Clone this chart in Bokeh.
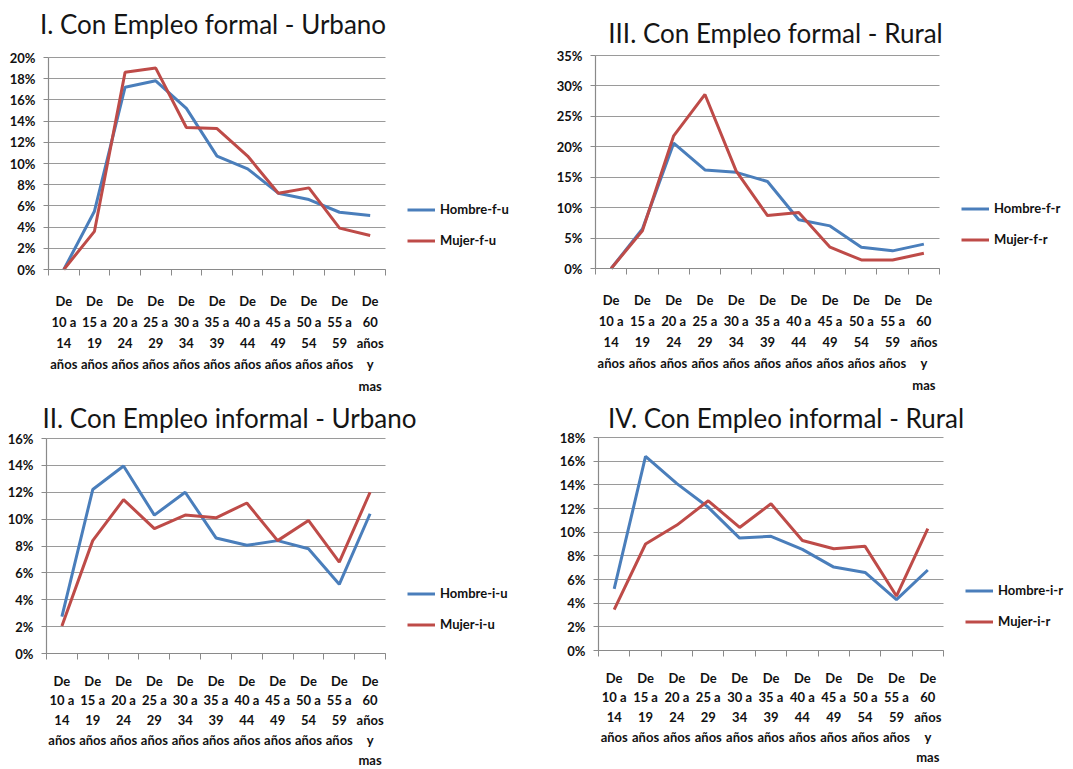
from bokeh.plotting import figure
from bokeh.layouts import row, column
from bokeh.models import (Range1d, FixedTicker, PrintfTickFormatter, Legend, LegendItem,
                          Label)
from bokeh.embed import file_html
from bokeh.resources import INLINE

categories = ["De\n10 a\n14\naños", "De\n15 a\n19\naños", "De\n20 a\n24\naños",
              "De\n25 a\n29\naños", "De\n30 a\n34\naños", "De\n35 a\n39\naños",
              "De\n40 a\n44\naños", "De\n45 a\n49\naños", "De\n50 a\n54\naños",
              "De\n55 a\n59\naños", "De\n60\naños\ny\nmas"]

hombre_f_u = [0.0, 5.5, 17.2, 17.8, 15.2, 10.7, 9.5, 7.2, 6.6, 5.4, 5.1]
mujer_f_u = [0.0, 3.6, 18.6, 19.0, 13.4, 13.3, 10.7, 7.2, 7.7, 3.9, 3.2]
hombre_f_r = [0.0, 6.5, 20.6, 16.2, 15.8, 14.3, 8.0, 7.0, 3.5, 2.9, 4.0]
mujer_f_r = [0.0, 6.2, 21.8, 28.6, 16.0, 8.7, 9.2, 3.5, 1.4, 1.4, 2.5]
hombre_i_u = [2.75, 12.2, 13.95, 10.3, 12.0, 8.6, 8.05, 8.4, 7.8, 5.15, 10.4]
mujer_i_u = [2.05, 8.4, 11.45, 9.3, 10.3, 10.1, 11.2, 8.4, 9.9, 6.8, 12.0]
hombre_i_r = [5.2, 16.4, 14.1, 12.1, 9.5, 9.65, 8.55, 7.05, 6.6, 4.3, 6.8]
mujer_i_r = [3.45, 9.0, 10.6, 12.65, 10.4, 12.4, 9.3, 8.6, 8.8, 4.6, 10.3]

BLUE = "#4A7EBB"
RED = "#BE4B48"
GRID = "#9A9A9A"
AXIS = "#8A8A8A"
FONT = "Lato"


def panel(title, hombre, mujer, labels, ymax, yint, W, H,
          L, T, pw, ph, title_cx, title_base, lab_lh, lab_standoff):
    """W,H canvas size; plot area at (L, T) with size pw x ph (pixels).
    The frame covers the whole canvas; both axes are pinned to the plot area."""
    n = len(categories)
    xs = list(range(n))
    B = H - T - ph                      # space below the plot area
    x0 = -0.5 - n * L / pw
    x1 = -0.5 + n * (W - L) / pw
    y0 = -ymax * B / ph
    y1 = ymax + ymax * T / ph
    p = figure(width=W, height=H, output_backend="svg", toolbar_location=None,
               title=None, x_range=Range1d(x0, x1), y_range=Range1d(y0, y1),
               min_border_left=0, min_border_top=0, min_border_right=0,
               min_border_bottom=0)
    p.outline_line_color = None
    p.xgrid.grid_line_color = None
    g = p.ygrid[0]
    g.grid_line_color = GRID
    g.grid_line_width = 1.2
    yticks = list(range(0, ymax + 1, yint))
    if "cross_bounds" in g.properties():
        g.cross_bounds = (-0.5, n - 0.5)
    else:
        g.visible = False
        p.segment(x0=[-0.5] * len(yticks), x1=[n - 0.5] * len(yticks),
                  y0=yticks, y1=yticks, line_color=GRID, line_width=1.2)

    xa = p.xaxis[0]
    xa.fixed_location = 0
    xa.bounds = (-0.5, n - 0.5)
    xa.ticker = FixedTicker(ticks=xs, minor_ticks=[i - 0.5 for i in range(n + 1)])
    xa.major_label_overrides = {i: c for i, c in enumerate(categories)}
    xa.major_tick_out = 0
    xa.major_tick_in = 0
    xa.minor_tick_out = 6
    xa.minor_tick_in = 0
    xa.minor_tick_line_color = AXIS
    xa.axis_line_color = AXIS
    xa.axis_line_width = 1.2
    xa.major_label_standoff = lab_standoff
    xa.major_label_text_font = FONT
    xa.major_label_text_font_style = "bold"
    xa.major_label_text_font_size = "13px"
    xa.major_label_text_line_height = lab_lh
    xa.major_label_text_color = "#111111"

    ya = p.yaxis[0]
    ya.fixed_location = -0.5
    ya.bounds = (0, ymax)
    ya.ticker = FixedTicker(ticks=yticks)
    ya.formatter = PrintfTickFormatter(format="%d%%")
    ya.major_tick_out = 5
    ya.major_tick_in = 0
    ya.minor_tick_line_color = None
    ya.major_tick_line_color = AXIS
    ya.axis_line_color = AXIS
    ya.axis_line_width = 1.2
    ya.major_label_standoff = 8
    ya.major_label_text_font = FONT
    ya.major_label_text_font_style = "bold"
    ya.major_label_text_font_size = "13px"
    ya.major_label_text_color = "#111111"

    r1 = p.line(xs, hombre, line_color=BLUE, line_width=3)
    r2 = p.line(xs, mujer, line_color=RED, line_width=3)
    legend = Legend(items=[LegendItem(label=labels[0], renderers=[r1]),
                           LegendItem(label=labels[1], renderers=[r2])],
                    location=(L + pw + 22, B + 13.5), orientation="vertical", padding=0,
                    margin=0, spacing=0, glyph_width=28, glyph_height=31, label_height=31,
                    label_standoff=5, border_line_color=None, background_fill_alpha=0,
                    label_text_font=FONT, label_text_font_style="bold",
                    label_text_font_size="13px", label_text_color="#111111")
    p.add_layout(legend)
    p.add_layout(Label(x=title_cx, y=H - title_base, x_units="screen", y_units="screen",
                       text=title, text_align="center", text_baseline="alphabetic",
                       text_font=FONT, text_font_size="26px", text_color="#151515"))
    return p


p1 = panel("I. Con Empleo formal - Urbano", hombre_f_u, mujer_f_u,
           ["Hombre-f-u", "Mujer-f-u"], 20, 2, 540, 396, 48, 57, 337, 212, 212.5, 23,
           1.33, 17)
p3 = panel("III. Con Empleo formal - Rural", hombre_f_r, mujer_f_r,
           ["Hombre-f-r", "Mujer-f-r"], 35, 5, 533, 396, 55, 55, 344, 213, 235, 32,
           1.33, 17)
p2 = panel("II. Con Empleo informal - Urbano", hombre_i_u, mujer_i_u,
           ["Hombre-i-u", "Mujer-i-u"], 16, 2, 540, 373, 46, 42, 339, 215, 229, 21,
           1.24, 13)
p4 = panel("IV. Con Empleo informal - Rural", hombre_i_r, mujer_i_r,
           ["Hombre-i-r", "Mujer-i-r"], 18, 2, 533, 373, 58, 41, 345, 213, 245.5, 21,
           1.24, 13)

layout = column(row(p1, p3), row(p2, p4))
open("out.html", "w").write(file_html(layout, INLINE))
